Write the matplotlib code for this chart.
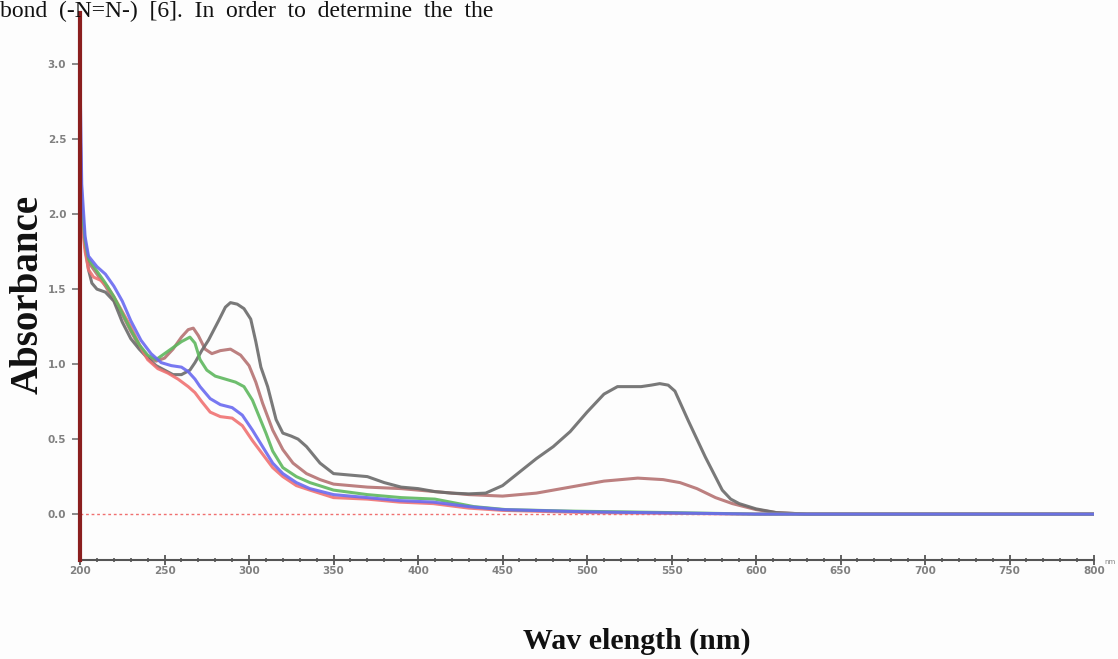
import matplotlib
matplotlib.use("Agg")
import matplotlib.pyplot as plt
from matplotlib.ticker import MultipleLocator

# ---------------- data ----------------
grey_x = [200, 201, 203, 205, 207, 210, 215, 220, 225, 230, 235, 240, 245, 250, 255, 260, 265, 268, 272,
          276, 282, 286, 289, 293, 297, 301, 304, 307, 311, 316, 320, 325, 329, 334, 342, 350, 360, 370,
          380, 390, 400, 410, 420, 430, 440, 450, 460, 470, 480, 490, 500, 510, 518, 525, 532, 538, 543,
          548, 552, 556, 560, 565, 570, 575, 580, 585, 590, 600, 612, 630, 700, 800]
grey_y = [2.60, 2.10, 1.78, 1.63, 1.54, 1.50, 1.48, 1.42, 1.28, 1.17, 1.10, 1.04, 0.99, 0.96, 0.93, 0.93,
          0.96, 1.01, 1.09, 1.16, 1.29, 1.38, 1.41, 1.40, 1.37, 1.30, 1.15, 0.98, 0.85, 0.63, 0.54, 0.52,
          0.50, 0.45, 0.34, 0.27, 0.26, 0.25, 0.21, 0.18, 0.17, 0.15, 0.14, 0.135, 0.14, 0.19, 0.28, 0.37,
          0.45, 0.55, 0.68, 0.80, 0.85, 0.85, 0.85, 0.86, 0.87, 0.86, 0.82, 0.72, 0.62, 0.50, 0.38, 0.27,
          0.16, 0.10, 0.07, 0.035, 0.01, 0.0, 0.0, 0.0]

brown_x = [200, 201, 203, 205, 210, 215, 220, 225, 230, 235, 240, 245, 250, 255, 260, 264, 267, 270, 274,
           278, 283, 289, 295, 300, 304, 308, 314, 320, 326, 334, 342, 350, 370, 390, 410, 430, 450, 470,
           490, 510, 530, 545, 555, 565, 576, 586, 600, 612, 630, 700, 800]
brown_y = [2.40, 2.05, 1.80, 1.68, 1.60, 1.52, 1.43, 1.33, 1.22, 1.12, 1.05, 1.02, 1.04, 1.10, 1.18, 1.23,
           1.24, 1.19, 1.10, 1.07, 1.09, 1.10, 1.06, 0.99, 0.88, 0.74, 0.56, 0.43, 0.34, 0.27, 0.23, 0.20,
           0.18, 0.17, 0.15, 0.13, 0.12, 0.14, 0.18, 0.22, 0.24, 0.23, 0.21, 0.17, 0.11, 0.07, 0.03, 0.01,
           0.0, 0.0, 0.0]

green_x = [200, 201, 203, 205, 210, 215, 220, 225, 230, 235, 240, 245, 250, 255, 260, 265, 268, 271, 275,
           280, 286, 292, 297, 302, 306, 310, 314, 320, 328, 336, 350, 370, 390, 410, 433, 452, 490, 550,
           600, 700, 800]
green_y = [2.30, 2.05, 1.82, 1.70, 1.62, 1.54, 1.45, 1.34, 1.23, 1.13, 1.06, 1.03, 1.07, 1.11, 1.15, 1.18,
           1.14, 1.03, 0.96, 0.92, 0.90, 0.88, 0.85, 0.76, 0.65, 0.54, 0.42, 0.31, 0.25, 0.21, 0.16, 0.13,
           0.11, 0.10, 0.05, 0.03, 0.02, 0.01, 0.0, 0.0, 0.0]

blue_x = [200, 201, 203, 205, 210, 215, 220, 225, 230, 236, 242, 248, 254, 260, 264, 268, 271, 277, 283,
          290, 296, 302, 308, 314, 320, 328, 336, 350, 370, 389, 409, 430, 450, 500, 600, 700, 800]
blue_y = [2.90, 2.20, 1.85, 1.72, 1.65, 1.60, 1.52, 1.42, 1.29, 1.16, 1.07, 1.01, 0.99, 0.98, 0.95, 0.90,
          0.85, 0.77, 0.73, 0.71, 0.66, 0.56, 0.45, 0.34, 0.27, 0.21, 0.17, 0.13, 0.11, 0.09, 0.08, 0.05,
          0.03, 0.015, 0.0, 0.0, 0.0]

red_x = [200, 201, 203, 205, 208, 212, 216, 220, 225, 230, 236, 240, 246, 252, 258, 264, 268, 272, 277,
         283, 290, 296, 302, 308, 314, 320, 328, 336, 350, 370, 389, 409, 430, 450, 500, 600, 700, 800]
red_y = [2.20, 1.95, 1.75, 1.63, 1.58, 1.56, 1.52, 1.45, 1.35, 1.25, 1.11, 1.03, 0.97, 0.94, 0.90, 0.85,
         0.81, 0.75, 0.68, 0.65, 0.64, 0.59, 0.49, 0.40, 0.31, 0.25, 0.19, 0.16, 0.11, 0.10, 0.08, 0.07,
         0.04, 0.025, 0.01, 0.0, 0.0, 0.0]

x_ticks = [200, 250, 300, 350, 400, 450, 500, 550, 600, 650, 700, 750, 800]
y_ticks = [0.0, 0.5, 1.0, 1.5, 2.0, 2.5, 3.0]

# ---------------- figure ----------------
fig = plt.figure(figsize=(11.18, 6.59), dpi=100)
fig.patch.set_facecolor("#fdfdfd")
ax = fig.add_axes([0.0716, 0.150, 0.907, 0.830])
ax.set_facecolor("#fdfdfd")

ax.axhline(0, color="#f07070", lw=1.0, ls=(0, (2, 2)), zorder=1)

series = [
    (brown_x, brown_y, "#b57272"),
    (grey_x, grey_y, "#6b6b6b"),
    (red_x, red_y, "#f07272"),
    (green_x, green_y, "#5fb85f"),
    (blue_x, blue_y, "#6a6af0"),
]
for xs, ys, c in series:
    ax.plot(xs, ys, color=c, lw=2.2, alpha=0.9, solid_capstyle="round", zorder=3)

ax.set_xlim(200, 800)
ax.set_ylim(-0.307, 3.34)

for s in ("top", "right"):
    ax.spines[s].set_visible(False)
ax.spines["left"].set_color("#8b1f1f")
ax.spines["left"].set_linewidth(3)
ax.spines["left"].set_zorder(5)
ax.spines["bottom"].set_color("#555555")
ax.spines["bottom"].set_linewidth(1.5)

ax.set_xticks(x_ticks)
ax.set_xticklabels([str(v) for v in x_ticks])
ax.set_yticks(y_ticks)
ax.set_yticklabels([f"{v:.1f}" for v in y_ticks])
ax.xaxis.set_minor_locator(MultipleLocator(10))
ax.yaxis.set_minor_locator(MultipleLocator(0.1))
ax.tick_params(axis="x", which="major", direction="inout", length=7, width=1.3,
               color="#555555", labelsize=7.5, labelcolor="#808080", pad=1)
ax.tick_params(axis="x", which="minor", direction="inout", length=3, width=1.2, color="#555555")
ax.tick_params(axis="y", which="major", direction="out", length=6, width=1.3,
               color="#808080", labelsize=7.5, labelcolor="#808080", pad=4)
ax.tick_params(axis="y", which="minor", direction="inout", length=3, width=1.2, color="#555555")
for lab in ax.get_xticklabels() + ax.get_yticklabels():
    lab.set_fontweight("bold")

fig.text(1110 / 1118, 1 - 562 / 659, "nm", fontsize=5, color="#808080", ha="center", va="center")

fig.text(28 / 1118, 1 - 294 / 659, "Absorbance", rotation=90, fontsize=28, fontweight="bold",
         family="Liberation Serif", ha="center", va="center", color="#111111")
fig.text(637 / 1118, 1 - 641 / 659, "Wav elength (nm)", fontsize=21.5, fontweight="bold",
         family="Liberation Serif", ha="center", va="center", color="#111111")

fig.text(0.0, 1 - 17 / 659, "bond  (-N=N-)  [6].  In  order  to  determine  the  the",
         fontsize=17, family="Liberation Serif", ha="left", va="baseline", color="#111111")

fig.savefig("out.png", dpi=100, facecolor=fig.get_facecolor())
